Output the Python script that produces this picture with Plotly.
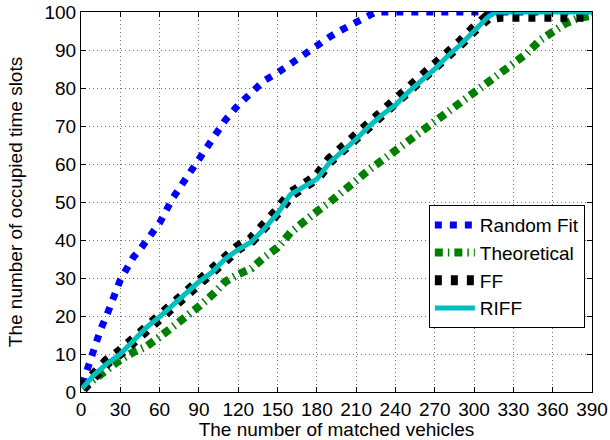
import plotly.graph_objects as go

# ---------------- data ----------------
rf_x = [1, 5, 10, 15, 20, 25, 30, 35, 40, 45, 50, 55, 60, 70, 80, 90, 100, 110,
        120, 130, 140, 150, 160, 170, 180, 190, 200, 210, 220, 225, 240, 270,
        300, 330, 360, 390]
rf_y = [2, 6.5, 12, 16.5, 20.5, 25, 29.5, 32.5, 35.5, 37.5, 40, 42, 44.5, 51,
        56, 61.5, 66, 71.5, 75.5, 79, 82, 84, 86.5, 89, 91, 93.5, 95.5, 97.5,
        99, 100, 100, 100, 100, 100, 100, 100]

th_x = [1, 10, 20, 30, 40, 50, 60, 70, 80, 90, 100, 110, 120, 130, 140, 150,
        160, 170, 180, 190, 200, 210, 220, 230, 240, 250, 260, 270, 280, 290,
        300, 310, 320, 330, 340, 350, 360, 370, 380, 390]
th_y = [1, 3.5, 6, 8.5, 10.5, 12, 14.5, 17, 20, 22.5, 25.5, 29, 31, 32.5, 35.5,
        38, 42, 45, 47.5, 50, 53, 56, 58.5, 61, 63.5, 66.5, 68.5, 71.5, 74,
        76.5, 78.5, 81.5, 84, 86.5, 89, 92.5, 95, 97, 98.5, 99]

ff_x = [1, 10, 20, 30, 40, 50, 60, 70, 80, 90, 100, 110, 120, 130, 140, 150,
        160, 170, 180, 190, 200, 210, 220, 230, 240, 250, 260, 270, 280, 290,
        300, 310, 320, 330, 360, 390]
ff_y = [1, 4.5, 8, 10.5, 13.5, 17, 20, 23.5, 26.5, 29.5, 32, 35.5, 38, 40,
        43.5, 47.5, 52, 54.5, 56.5, 61, 64, 67, 70.5, 73.5, 76, 79.5, 82.5,
        85.5, 89, 92, 95.5, 98.5, 99, 99, 99, 99]

riff_x = [1, 10, 20, 30, 40, 50, 60, 70, 80, 90, 100, 110, 120, 130, 140, 150,
          160, 170, 180, 190, 200, 210, 220, 230, 240, 250, 260, 270, 280, 290,
          300, 310, 317, 330, 360, 390]
riff_y = [1, 4.5, 7.5, 10, 13.5, 17, 19.8, 23, 26, 29, 31.5, 35, 37.5, 39.5,
          43, 47, 52, 54, 56, 60.5, 63.5, 66.5, 70, 73, 75.5, 79, 82, 85, 88.5,
          91.5, 95, 98.5, 100, 100, 100, 100]

x_ticks = [0, 30, 60, 90, 120, 150, 180, 210, 240, 270, 300, 330, 360, 390]
y_ticks = [0, 10, 20, 30, 40, 50, 60, 70, 80, 90, 100]

# ---------------- figure ----------------
FONT = "Liberation Sans, Arial, sans-serif"
FS = 19

fig = go.Figure()
fig.add_trace(go.Scatter(x=rf_x, y=rf_y, mode="lines", name="Random Fit",
                         line=dict(color="#0000FF", width=7, dash="7px,8px")))
fig.add_trace(go.Scatter(x=th_x, y=th_y, mode="lines", name="Theoretical",
                         line=dict(color="#008000", width=8,
                                   dash="8px,5px,1.5px,5px")))
fig.add_trace(go.Scatter(x=ff_x, y=ff_y, mode="lines", name="FF",
                         line=dict(color="#000000", width=12, dash="7px,9px")))
fig.add_trace(go.Scatter(x=riff_x, y=riff_y, mode="lines", name="RIFF",
                         line=dict(color="#00BFBF", width=5)))

axis_common = dict(
    showline=True, linecolor="black", linewidth=1, mirror="ticks",
    ticks="inside", ticklen=5, tickcolor="black",
    showgrid=True, gridcolor="#707070", gridwidth=1, griddash="1px,3px",
    zeroline=False, tickfont=dict(family=FONT, size=FS, color="black"),
    automargin=False, ticklabeloverflow="allow",
)

fig.update_xaxes(range=[0, 390], tickmode="array", tickvals=x_ticks,
                 ticktext=[str(v) for v in x_ticks],
                 title=dict(text="The number of matched vehicles",
                            font=dict(family=FONT, size=FS, color="black"),
                            standoff=2),
                 **axis_common)
fig.update_yaxes(range=[0, 100], tickmode="array", tickvals=y_ticks,
                 ticktext=[str(v) for v in y_ticks],
                 title=dict(text="The number of occupied time slots",
                            font=dict(family=FONT, size=FS, color="black"),
                            standoff=16),
                 **axis_common)

fig.update_layout(
    width=610, height=440,
    margin=dict(l=81, r=18, t=12, b=48),
    paper_bgcolor="white", plot_bgcolor="white",
    font=dict(family=FONT, size=FS, color="black"),
    legend=dict(x=0.986, y=0.492, xanchor="right", yanchor="top",
                bgcolor="white", bordercolor="black", borderwidth=1,
                font=dict(family=FONT, size=19, color="black"),
                tracegroupgap=0, itemwidth=40),
    showlegend=True,
)

# remove the page's default body margin so the figure sits at (0, 0)
fig.write_html(
    "out.html",
    config={"displayModeBar": False},
    post_script="document.body.style.margin='0';"
                "document.body.style.overflow='hidden';",
)
